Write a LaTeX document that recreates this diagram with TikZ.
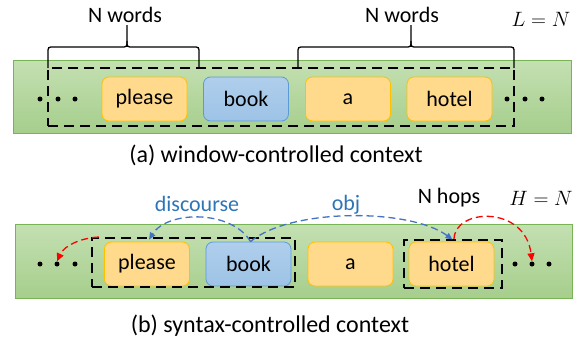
\documentclass[tikz,border=0pt]{standalone}
\usepackage{fontspec}
\setmainfont{Carlito}
\usetikzlibrary{arrows.meta}
\definecolor{gbord}{RGB}{120,180,85}
\definecolor{gtop}{RGB}{196,224,178}
\definecolor{gbot}{RGB}{166,206,140}
\definecolor{yfill}{RGB}{255,217,140}
\definecolor{ybord}{RGB}{255,192,0}
\definecolor{bfill}{RGB}{157,195,230}
\definecolor{btop}{RGB}{176,206,236}
\definecolor{bbord}{RGB}{91,155,213}
\definecolor{arrblue}{RGB}{68,114,196}
\definecolor{lblblue}{RGB}{46,117,182}
\tikzset{
  bar/.style={draw=gbord, line width=0.8pt, top color=gtop, bottom color=gbot},
  yword/.style={draw=ybord, line width=0.8pt, fill=yfill, rounded corners=7pt,
     minimum width=85pt, minimum height=44pt, inner sep=0pt,
     font=\fontsize{22}{26}\selectfont},
  bword/.style={yword, draw=bbord, top color=btop, bottom color=bfill},
  win/.style={draw=black, line width=2pt, dash pattern=on 10pt off 6pt},
  dotn/.style={circle, fill=black, minimum size=5pt, inner sep=0pt},
  lbl/.style={font=\fontsize{22}{26}\selectfont, inner sep=0pt},
  mathlbl/.style={font=\fontsize{21}{24}\selectfont, inner sep=0pt},
  captext/.style={font=\fontsize{24}{28}\selectfont, inner sep=0pt},
  brc/.style={draw=black, line width=1.3pt},
  barr/.style={draw=arrblue, line width=1.3pt, dash pattern=on 7pt off 4pt,
     -{Triangle[length=7pt,width=6pt]}},
  rarr/.style={draw=red, line width=1.3pt, dash pattern=on 7pt off 4pt,
     -{Triangle[length=8pt,width=7pt]}}
}
\begin{document}
\begin{tikzpicture}[x=1pt,y=-1pt]
\useasboundingbox (0,0) rectangle (575,343);
% ---------- (a) ----------
\path[bar] (13,60) rectangle (571,133);
\node[yword] (pa) at (144.5,99) {please};
\node[bword] (ba) at (246,99) {book};
\node[yword] (aa) at (348,99) {a};
\node[yword] (ha) at (449.5,99) {hotel};
\node[dotn] (la1) at (40,99) {};
\node[dotn] (la2) at (58,99) {};
\node[dotn] (la3) at (75,99) {};
\node[dotn] (ra1) at (507,99) {};
\node[dotn] (ra2) at (525,99) {};
\node[dotn] (ra3) at (542,99) {};
\node[win, minimum width=466pt, minimum height=58pt, inner sep=0pt] (wa) at (281,97) {};
% braces
\draw[brc] (48,68) -- (48,53) .. controls (48,47) .. (54,47) -- (121,47)
  .. controls (127,47) .. (127,41) -- (127,25);
\draw[brc] (127,41) .. controls (127,47) .. (133,47) -- (193,47)
  .. controls (199,47) .. (199,53) -- (199,68);
\draw[brc] (298,68) -- (298,53) .. controls (298,47) .. (304,47) -- (405,47)
  .. controls (411,47) .. (411,41) -- (411,25);
\draw[brc] (411,41) .. controls (411,47) .. (417,47) -- (508,47)
  .. controls (514,47) .. (514,53) -- (514,68);
\node[lbl] (nw1) at (125,15) {N words};
\node[lbl] (nw2) at (402,15) {N words};
\node[mathlbl] (ln) at (541,19) {$L=N$};
\node[captext] (capa) at (276,155) {(a) window-controlled context};
% ---------- (b) ----------
\path[bar] (15,224) rectangle (572,298);
\node[yword] (pb) at (147,264) {please};
\node[bword] (bb) at (248.5,264) {book};
\node[yword] (ab) at (350.5,264) {a};
\node[yword] (hb) at (451.5,264) {hotel};
\node[dotn] (lb1) at (40,264) {};
\node[dotn] (lb2) at (57,264) {};
\node[dotn] (lb3) at (75,264) {};
\node[dotn] (rb1) at (515,264) {};
\node[dotn] (rb2) at (532,264) {};
\node[dotn] (rb3) at (549,264) {};
\node[win, minimum width=203pt, minimum height=49pt, inner sep=0pt] (w1) at (193.5,262.5) {};
\node[win, minimum width=98pt, minimum height=48pt, inner sep=0pt] (w2) at (453,264) {};
\draw[barr] ([xshift=2pt]bb.north) .. controls (232,210) and (168,210) .. ([xshift=2pt,yshift=2pt]pb.north);
\draw[barr] ([xshift=2pt]bb.north) .. controls (290,208) and (410,208) .. ([xshift=1pt,yshift=2pt]hb.north);
\draw[rarr] ([xshift=8pt]w1.north west) .. controls (80,238) and (64,246) .. (lb2.north);
\draw[rarr] ([xshift=1pt]w2.north) .. controls (455,208) and (525,205) .. (rb2.north);
\node[lbl, text=lblblue] (disc) at (197,204) {discourse};
\node[lbl, text=lblblue] (obj) at (346,205) {obj};
\node[lbl] (nh) at (449,198) {N hops};
\node[mathlbl] (hn) at (541,198) {$H=N$};
\node[captext] (capb) at (270,326) {(b) syntax-controlled context};
\end{tikzpicture}
\end{document}
